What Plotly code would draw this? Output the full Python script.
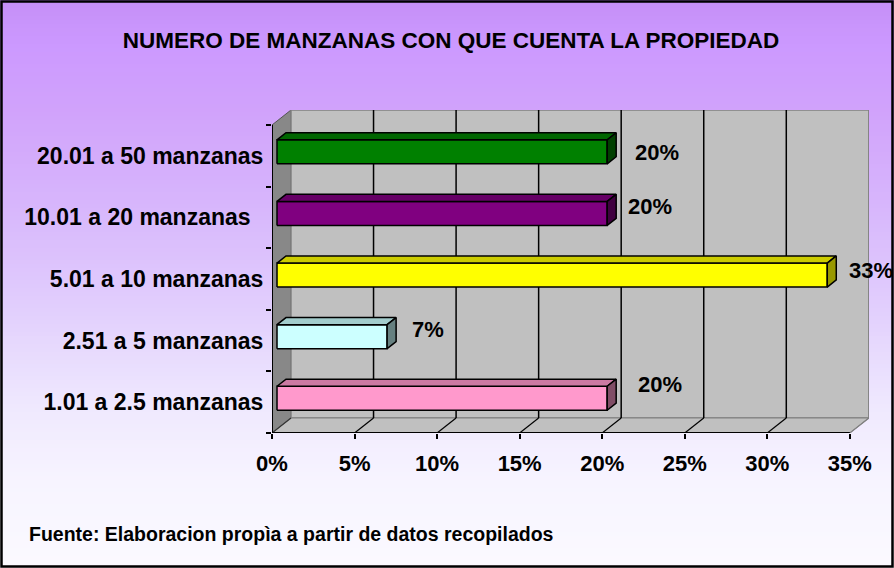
import plotly.graph_objects as go

# ---------------- data ----------------
categories = ["1.01 a 2.5 manzanas", "2.51 a 5 manzanas", "5.01 a 10 manzanas",
              "10.01 a 20 manzanas\u00a0\u00a0", "20.01 a 50 manzanas"]
values = [20.0, 6.67, 33.33, 20.0, 20.0]
x_ticks = [0, 5, 10, 15, 20, 25, 30, 35]
x_tick_labels = ["0%", "5%", "10%", "15%", "20%", "25%", "30%", "35%"]
title_text = "NUMERO DE MANZANAS CON QUE CUENTA LA PROPIEDAD"
source_text = "Fuente: Elaboracion propìa a partir de datos recopilados"

# ---------------- style ----------------
front_colors = ["#FF99CC", "#CCFFFF", "#FFFF00", "#800080", "#008000"]
top_colors = ["#CC7AA3", "#A3CCCC", "#CCCC00", "#660066", "#006600"]
side_colors = ["#804D66", "#668080", "#999900", "#400040", "#004000"]
label_dx = [3.5, 2.78, 2.94, 2.89, 3.31]
label_dy = [0.295, 0.188, 0.146, 0.185, 0.06]

W, H = 894, 568
ML, MR, MT, MB = 272, 25, 110, 135
PW, PH = W - ML - MR, H - MT - MB
XMAX_FRONT = 35.0
PX_PER_X = (850 - 272) / 35.0
PX_PER_Y = 61.6
DX = 19 / PX_PER_X        # depth offset in x units
DY = 15 / PX_PER_Y        # depth offset in y units
Y0, Y1 = -0.5, 4.5
FONT = "Arial, 'Liberation Sans', sans-serif"


def proj(x, y, t):
    return x + DX * t, y + DY * t


def poly(points, fill, line_color="black", width=1.5):
    xs = [p[0] for p in points] + [points[0][0]]
    ys = [p[1] for p in points] + [points[0][1]]
    return go.Scatter(x=xs, y=ys, mode="lines", fill="toself", fillcolor=fill,
                      line=dict(color=line_color, width=width), hoverinfo="skip",
                      showlegend=False, cliponaxis=False)


def seg_trace(segs, color, width):
    xs, ys = [], []
    for (a, b) in segs:
        xs += [a[0], b[0], None]
        ys += [a[1], b[1], None]
    return go.Scatter(x=xs, y=ys, mode="lines", line=dict(color=color, width=width),
                      hoverinfo="skip", showlegend=False, cliponaxis=False)


fig = go.Figure()

# walls
fig.add_trace(poly([proj(0, Y0, 0), proj(0, Y1, 0), proj(0, Y1, 1), proj(0, Y0, 1)],
                   "#888888", "#555555", 1))
fig.add_trace(poly([proj(0, Y0, 1), proj(XMAX_FRONT, Y0, 1), proj(XMAX_FRONT, Y1, 1),
                    proj(0, Y1, 1)], "#C0C0C0", "#808080", 1.5))
fig.add_trace(poly([proj(0, Y0, 0), proj(XMAX_FRONT, Y0, 0), proj(XMAX_FRONT, Y0, 1),
                    proj(0, Y0, 1)], "#C0C0C0", "#808080", 1))

# gridlines on back wall and floor
grid = [(proj(v, Y0, 1), proj(v, Y1, 1)) for v in x_ticks[1:-1]]
fig.add_trace(seg_trace(grid, "black", 1.5))
floor_lines = [(proj(v, Y0, 0), proj(v, Y0, 1)) for v in x_ticks[1:-1]]
fig.add_trace(seg_trace(floor_lines, "black", 1.2))
fig.add_trace(seg_trace([(proj(0, Y0, 0), proj(0, Y0, 1))], "#333333", 1.2))
fig.add_trace(seg_trace([(proj(XMAX_FRONT, Y0, 0), proj(XMAX_FRONT, Y0, 1))], "#808080", 1.2))

# bars
TF, TB = 5 / 19, 14 / 19
HH = 12 / PX_PER_Y
for k, v in enumerate(values):
    lo, hi = k - HH, k + HH
    fig.add_trace(poly([proj(0, lo, TF), proj(v, lo, TF), proj(v, hi, TF), proj(0, hi, TF)],
                       front_colors[k]))
    fig.add_trace(poly([proj(0, hi, TF), proj(v, hi, TF), proj(v, hi, TB), proj(0, hi, TB)],
                       top_colors[k]))
    fig.add_trace(poly([proj(v, lo, TF), proj(v, lo, TB), proj(v, hi, TB), proj(v, hi, TF)],
                       side_colors[k]))

# front axis lines
fig.add_trace(seg_trace([((0, Y0), (XMAX_FRONT, Y0)), ((0, Y0), (0, Y1))], "black", 2))

annotations = []
for k, v in enumerate(values):
    annotations.append(dict(x=v, y=k, xref="x", yref="y",
                            xshift=label_dx[k] * PX_PER_X, yshift=label_dy[k] * PX_PER_Y,
                            text=f"{round(v)}%", showarrow=False,
                            font=dict(family=FONT, size=22, color="black", weight="bold")))


def px_x(px):
    return (px - ML) / PW


def px_y(py):
    return (H - MB - py) / PH


annotations.append(dict(x=px_x(27), y=px_y(534), xref="paper", yref="paper",
                        xanchor="left", yanchor="middle", text=source_text, showarrow=False,
                        font=dict(family=FONT, size=19.5, color="black", weight="bold")))

# background gradient + border
stops = [(0.0, (197, 143, 247)), (0.08, (204, 153, 255)), (0.2, (209, 163, 251)),
         (0.38, (216, 184, 252)), (0.55, (226, 208, 253)), (0.73, (240, 234, 254)),
         (0.85, (247, 244, 255)), (1.0, (251, 250, 255))]


def grad(f):
    for (a, ca), (b, cb) in zip(stops[:-1], stops[1:]):
        if a <= f <= b:
            r = (f - a) / (b - a) if b > a else 0
            c = [round(ca[i] + (cb[i] - ca[i]) * r) for i in range(3)]
            return f"rgb({c[0]},{c[1]},{c[2]})"
    return "white"


shapes = []
band = 4
for y in range(0, H, band):
    shapes.append(dict(type="rect", xref="paper", yref="paper", layer="below",
                       x0=px_x(0), x1=px_x(W), y0=px_y(y + band + 0.5), y1=px_y(y),
                       fillcolor=grad((y + band / 2) / H), line=dict(width=0)))
shapes.append(dict(type="rect", xref="paper", yref="paper", layer="above",
                   x0=px_x(1.5), x1=px_x(W - 1.5), y0=px_y(H - 1.5), y1=px_y(1.5),
                   line=dict(color="black", width=2.5), fillcolor="rgba(0,0,0,0)"))

fig.update_layout(
    width=W, height=H, autosize=False,
    margin=dict(l=ML, r=MR, t=MT, b=MB, pad=0),
    paper_bgcolor="white", plot_bgcolor="rgba(0,0,0,0)",
    showlegend=False,
    title=dict(text=title_text, xref="container", yref="container",
               x=451 / W, y=1 - 40 / H, xanchor="center", yanchor="middle",
               font=dict(family=FONT, size=22.5, color="black", weight="bold")),
    xaxis=dict(range=[0, 35 + DX + 0.01], showgrid=False, zeroline=False, showline=False,
               tickmode="array", tickvals=x_ticks, ticktext=x_tick_labels,
               ticks="outside", ticklen=5, tickwidth=1.5, tickcolor="black",
               ticklabelstandoff=6,
               tickfont=dict(family=FONT, size=22, color="black", weight="bold"),
               fixedrange=True),
    yaxis=dict(range=[Y0, Y1 + DY], showgrid=False, zeroline=False, showline=False,
               tickmode="array", tickvals=list(range(len(categories))), ticktext=categories,
               ticks="outside", ticklen=0, tickcolor="rgba(0,0,0,0)",
               ticklabelstandoff=3,
               tickfont=dict(family=FONT, size=23, color="black", weight="bold"),
               minor=dict(tickmode="array", tickvals=[k - 0.5 for k in range(len(categories) + 1)],
                          ticks="outside", ticklen=5, tickwidth=1.5, tickcolor="black",
                          showgrid=False),
               fixedrange=True),
    annotations=annotations,
    shapes=shapes,
)

fig.write_html("out.html", config={"displayModeBar": False},
               post_script="document.body.style.margin='0px';document.body.style.overflow='hidden';")
